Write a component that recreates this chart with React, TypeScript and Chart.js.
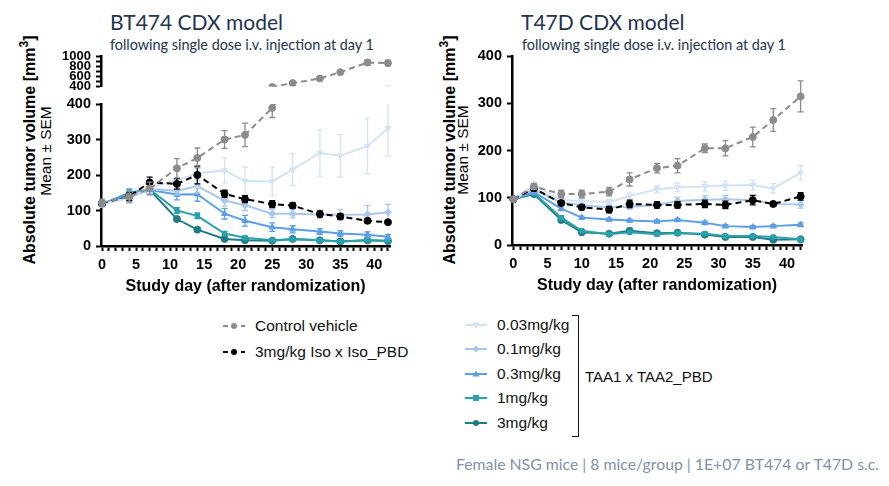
import React, { useEffect, useRef } from "react";
import { Chart, registerables } from "chart.js";

Chart.register(...registerables);
Chart.defaults.font.family = "'Liberation Sans', Arial, sans-serif";

// ---- data ----
const BT474_DAYS = [0, 4, 7, 11, 14, 18, 21, 25, 28, 32, 35, 39, 42];
const T47D_DAYS = [0, 3, 7, 10, 14, 17, 21, 24, 28, 31, 35, 38, 42];

const SERIES = ["Control vehicle", "3mg/kg Iso x Iso_PBD", "0.03mg/kg", "0.1mg/kg", "0.3mg/kg", "1mg/kg", "3mg/kg"];

// BT474 mean tumor volume (mm3) and SEM
const bt474Control = [122, 139, 162, 219, 248, 300, 313, 389, 469, 560, 686, 880, 869];
const bt474ControlSem = [10, 15, 18, 27, 28, 25, 33, 27, 15, 40, 25, 55, 55];
const bt474Iso = [120, 140, 179, 175, 200, 147, 132, 118, 114, 90, 83, 71, 67];
const bt474IsoSem = [8, 12, 15, 15, 25, 10, 10, 10, 8, 8, 8, 5, 5];
const bt474D003 = [118, 135, 165, 185, 205, 213, 183, 182, 215, 262, 254, 282, 332];
const bt474D003Sem = [8, 15, 15, 25, 40, 35, 40, 40, 45, 65, 60, 78, 78];
const bt474D01 = [118, 135, 160, 156, 168, 128, 115, 91, 91, 89, 88, 89, 95];
const bt474D01Sem = [8, 12, 12, 12, 18, 15, 15, 12, 12, 12, 15, 25, 22];
const bt474D03 = [118, 148, 158, 145, 146, 91, 71, 53, 47, 41, 35, 32, 26];
const bt474D03Sem = [8, 12, 12, 15, 20, 15, 15, 12, 10, 8, 8, 8, 6];
const bt474D1 = [118, 150, 160, 100, 85, 35, 23, 16, 19, 16, 13, 16, 15];
const bt474D1Sem = [6, 10, 10, 8, 8, 6, 5, 4, 4, 4, 3, 4, 4];
const bt474D3 = [118, 140, 158, 76, 46, 20, 16, 15, 20, 16, 13, 16, 14];
const bt474D3Sem = [6, 10, 10, 6, 4, 4, 3, 3, 3, 3, 3, 3, 3];

// T47D mean tumor volume (mm3) and SEM
const t47dControl = [97, 124, 108, 108, 113, 139, 163, 168, 205, 205, 229, 265, 315];
const t47dControlSem = [4, 6, 8, 8, 9, 14, 10, 15, 9, 16, 21, 24, 33];
const t47dIso = [97, 120, 89, 80, 75, 87, 85, 85, 87, 85, 95, 87, 103];
const t47dIsoSem = [4, 5, 5, 5, 7, 8, 7, 7, 8, 8, 10, 4, 8];
const t47dD003 = [97, 127, 96, 93, 91, 104, 118, 122, 124, 126, 127, 120, 153];
const t47dD003Sem = [4, 7, 6, 6, 6, 8, 7, 9, 10, 10, 10, 10, 15];
const t47dD01 = [97, 118, 90, 84, 80, 81, 85, 93, 96, 97, 95, 87, 86];
const t47dD01Sem = [4, 5, 5, 5, 5, 5, 5, 8, 8, 8, 7, 5, 8];
const t47dD03 = [97, 112, 77, 58, 54, 52, 50, 53, 47, 40, 38, 40, 43];
const t47dD03Sem = [3, 4, 4, 3, 3, 3, 3, 3, 4, 3, 3, 3, 4];
const t47dD1 = [97, 110, 58, 30, 23, 27, 23, 25, 24, 19, 19, 17, 12];
const t47dD1Sem = [3, 3, 4, 3, 2, 3, 2, 2, 2, 2, 2, 2, 2];
const t47dD3 = [97, 108, 53, 27, 24, 30, 25, 26, 22, 17, 17, 11, 12];
const t47dD3Sem = [3, 3, 3, 2, 2, 3, 2, 2, 2, 2, 2, 2, 2];

const LOWER_TICKS = [0, 100, 200, 300, 400];
const UPPER_TICKS = [400, 600, 800, 1000];

// ---- styles ----
const COLORS = ["#8c8c8c", "#000000", "#d3e3f6", "#a7c7ee", "#5c9ee8", "#2aa1ac", "#1d7c88"];
const DASHED = [true, true, false, false, false, false, false];
const MARKERS = ["circle", "circle", "triangle", "rectRot", "triangle", "rect", "circle"];
const ROTATION = [0, 0, 180, 0, 0, 0, 0];

const TITLE_COLOR = "#22344f";

// draws mean ± SEM whiskers under each dataset
const errorBars = {
  id: "errorBars",
  beforeDatasetDraw(chart: any, args: any) {
    const ds = chart.data.datasets[args.index];
    const sem: number[] | undefined = ds.sem;
    if (!sem) return;
    const { ctx, chartArea } = chart;
    const y = chart.scales.y;
    ctx.save();
    ctx.beginPath();
    ctx.rect(chartArea.left - 20, chartArea.top, chartArea.width + 40, chartArea.height);
    ctx.clip();
    ctx.strokeStyle = ds.borderColor;
    ctx.lineWidth = 1.3;
    ctx.setLineDash([]);
    args.meta.data.forEach((pt: any, i: number) => {
      const v = ds.data[i].y;
      const top = y.getPixelForValue(v + sem[i]);
      const bot = y.getPixelForValue(v - sem[i]);
      ctx.beginPath();
      ctx.moveTo(pt.x, top);
      ctx.lineTo(pt.x, bot);
      ctx.moveTo(pt.x - 3, top);
      ctx.lineTo(pt.x + 3, top);
      ctx.moveTo(pt.x - 3, bot);
      ctx.lineTo(pt.x + 3, bot);
      ctx.stroke();
    });
    ctx.restore();
  },
};

function buildDatasets(days: number[], values: number[][], sems: number[][], clip: any) {
  return values.map((vals, i) => ({
    label: SERIES[i],
    data: vals.map((v, j) => ({ x: days[j], y: v })),
    sem: sems[i],
    borderColor: COLORS[i],
    backgroundColor: COLORS[i],
    pointBackgroundColor: COLORS[i],
    pointBorderColor: COLORS[i],
    borderWidth: 2,
    borderDash: DASHED[i] ? [6, 4] : [],
    pointStyle: MARKERS[i],
    pointRotation: ROTATION[i],
    pointRadius: MARKERS[i] === "rect" ? 3 : 3.5,
    pointBorderWidth: 1,
    tension: 0,
    clip,
  }));
}

function chartOptions(o: {
  yMin: number;
  yMax: number;
  yLabels: number[];
  yFont: number;
  xMax: number;
  xMin: number;
  showX: boolean;
  pad: any;
  yWidth: number;
}): any {
  return {
    responsive: false,
    animation: false,
    events: [],
    layout: { padding: o.pad },
    plugins: { legend: { display: false }, tooltip: { enabled: false } },
    scales: {
      x: {
        type: "linear",
        display: o.showX,
        min: o.xMin,
        max: o.xMax,
        border: { color: "#000", width: 2.5 },
        grid: { drawOnChartArea: false, tickLength: 5, tickColor: "#000", tickWidth: 2 },
        ticks: {
          stepSize: 1,
          autoSkip: false,
          maxRotation: 0,
          includeBounds: false,
          padding: 5,
          color: "#000",
          font: { size: 14.5, weight: "bold" },
          callback: (v: number) => (v % 5 === 0 ? String(v) : ""),
        },
        title: {
          display: true,
          text: "Study day (after randomization)",
          color: "#000",
          font: { size: 16, weight: "bold" },
          padding: 0,
        },
        afterFit: (s: any) => {
          if (o.showX) s.height = 50;
        },
      },
      y: {
        type: "linear",
        min: o.yMin,
        max: o.yMax,
        border: { color: "#000", width: 2.5 },
        grid: { drawOnChartArea: false, tickLength: 5, tickColor: "#000", tickWidth: 2 },
        ticks: {
          stepSize: 100,
          autoSkip: false,
          includeBounds: false,
          padding: 5,
          color: "#000",
          font: { size: o.yFont, weight: "bold", lineHeight: 1 },
          callback: (v: number) => (o.yLabels.includes(v) ? String(v) : ""),
        },
        afterFit: (s: any) => {
          s.width = o.yWidth;
        },
      },
    },
  };
}

function Marker({ kind, color, rot }: { kind: string; color: string; rot: number }) {
  const cx = 11;
  const cy = 6;
  if (kind === "circle") return <circle cx={cx} cy={cy} r={3} fill={color} />;
  if (kind === "rect") return <rect x={cx - 3} y={cy - 3} width={6} height={6} fill={color} />;
  if (kind === "rectRot")
    return <polygon points={`${cx},${cy - 3.5} ${cx + 3.5},${cy} ${cx},${cy + 3.5} ${cx - 3.5},${cy}`} fill={color} />;
  const d = rot === 180 ? -1 : 1;
  return <polygon points={`${cx},${cy - 3.5 * d} ${cx + 3.5},${cy + 2.5 * d} ${cx - 3.5},${cy + 2.5 * d}`} fill={color} />;
}

function LegendRow({ i, left, top }: { i: number; left: number; top: number }) {
  return (
    <div style={{ position: "absolute", left, top: top - 10, height: 20, display: "flex", alignItems: "center" }}>
      <svg width={22} height={12} style={{ marginRight: 10 }}>
        <line
          x1={0}
          y1={6}
          x2={22}
          y2={6}
          stroke={COLORS[i]}
          strokeWidth={2}
          strokeDasharray={DASHED[i] ? "5 4" : undefined}
        />
        <Marker kind={MARKERS[i]} color={COLORS[i]} rot={ROTATION[i]} />
      </svg>
      <span style={{ fontSize: 15.5, color: "#111", whiteSpace: "nowrap" }}>{SERIES[i]}</span>
    </div>
  );
}

function YTitle({ x, y }: { x: number; y: number }) {
  return (
    <div
      style={{
        position: "absolute",
        left: x,
        top: y,
        transform: "translate(-50%, -50%) rotate(-90deg)",
        whiteSpace: "nowrap",
        fontSize: 16,
        fontWeight: "bold",
        color: "#000",
      }}
    >
      Absolute tumor volume [mm<span style={{ fontSize: 12, verticalAlign: "7px" }}>3</span>]
    </div>
  );
}

function YSub({ x, y }: { x: number; y: number }) {
  return (
    <div
      style={{
        position: "absolute",
        left: x,
        top: y,
        transform: "translate(-50%, -50%) rotate(-90deg)",
        whiteSpace: "nowrap",
        fontSize: 15.5,
        color: "#000",
      }}
    >
      Mean ± SEM
    </div>
  );
}

export default function App() {
  const upperRef = useRef<HTMLCanvasElement | null>(null);
  const lowerRef = useRef<HTMLCanvasElement | null>(null);
  const rightRef = useRef<HTMLCanvasElement | null>(null);

  useEffect(() => {
    const charts: Chart[] = [];
    const btValues = [bt474Control, bt474Iso, bt474D003, bt474D01, bt474D03, bt474D1, bt474D3];
    const btSems = [bt474ControlSem, bt474IsoSem, bt474D003Sem, bt474D01Sem, bt474D03Sem, bt474D1Sem, bt474D3Sem];
    const tValues = [t47dControl, t47dIso, t47dD003, t47dD01, t47dD03, t47dD1, t47dD3];
    const tSems = [t47dControlSem, t47dIsoSem, t47dD003Sem, t47dD01Sem, t47dD03Sem, t47dD1Sem, t47dD3Sem];

    if (upperRef.current) {
      charts.push(
        new Chart(upperRef.current, {
          type: "line",
          data: { datasets: buildDatasets(BT474_DAYS, btValues, btSems, { left: 10, right: 10, top: 10, bottom: 0 }) as any },
          options: chartOptions({
            yMin: 400,
            yMax: 1000,
            yLabels: UPPER_TICKS,
            yFont: 13,
            xMin: -0.15,
            xMax: 42.3,
            showX: false,
            pad: { top: 10, right: 10, bottom: 8, left: 0 },
            yWidth: 61,
          }),
          plugins: [errorBars],
        })
      );
    }
    if (lowerRef.current) {
      charts.push(
        new Chart(lowerRef.current, {
          type: "line",
          data: { datasets: buildDatasets(BT474_DAYS, btValues, btSems, { left: 10, right: 10, top: 0, bottom: 10 }) as any },
          options: chartOptions({
            yMin: 0,
            yMax: 400,
            yLabels: LOWER_TICKS,
            yFont: 14.5,
            xMin: -0.15,
            xMax: 42.3,
            showX: true,
            pad: { top: 14, right: 10, bottom: 0, left: 0 },
            yWidth: 61,
          }),
          plugins: [errorBars],
        })
      );
    }
    if (rightRef.current) {
      charts.push(
        new Chart(rightRef.current, {
          type: "line",
          data: { datasets: buildDatasets(T47D_DAYS, tValues, tSems, { left: 10, right: 10, top: 10, bottom: 10 }) as any },
          options: chartOptions({
            yMin: 0,
            yMax: 400,
            yLabels: LOWER_TICKS,
            yFont: 14.5,
            xMin: -0.2,
            xMax: 42.2,
            showX: true,
            pad: { top: 10, right: 8, bottom: 0, left: 0 },
            yWidth: 62,
          }),
          plugins: [errorBars],
        })
      );
    }
    return () => charts.forEach((c) => c.destroy());
  }, []);

  const titleStyle: React.CSSProperties = {
    position: "absolute",
    fontFamily: "Lato, 'Noto Sans', sans-serif",
    fontSize: 21,
    lineHeight: "22px",
    color: TITLE_COLOR,
    whiteSpace: "nowrap",
  };
  const subStyle: React.CSSProperties = {
    position: "absolute",
    fontFamily: "Lato, 'Noto Sans', sans-serif",
    fontSize: 14.4,
    lineHeight: "14px",
    color: TITLE_COLOR,
    whiteSpace: "nowrap",
  };

  return (
    <div
      style={{
        position: "absolute",
        left: 0,
        top: 0,
        width: 889,
        height: 486,
        background: "#fff",
        overflow: "hidden",
        fontFamily: "'Liberation Sans', Arial, sans-serif",
      }}
    >
      <div style={{ ...titleStyle, left: 110, top: 11 }}>BT474 CDX model</div>
      <div style={{ ...subStyle, left: 110, top: 38 }}>following single dose i.v. injection at day 1</div>
      <div style={{ ...titleStyle, left: 521, top: 11 }}>T47D CDX model</div>
      <div style={{ ...subStyle, left: 522, top: 38 }}>following single dose i.v. injection at day 1</div>

      <YTitle x={28} y={150} />
      <YSub x={46} y={151} />
      <YTitle x={448} y={150} />
      <YSub x={463} y={150} />

      <canvas ref={upperRef} width={360} height={53} style={{ position: "absolute", left: 40, top: 45 }} />
      <canvas ref={lowerRef} width={360} height={206} style={{ position: "absolute", left: 40, top: 90 }} />
      <canvas ref={rightRef} width={360} height={251} style={{ position: "absolute", left: 450, top: 44 }} />

      <LegendRow i={0} left={223} top={326} />
      <LegendRow i={1} left={223} top={351.7} />
      {[2, 3, 4, 5, 6].map((i, k) => (
        <LegendRow key={i} i={i} left={465} top={325 + k * 24.4} />
      ))}

      <div
        style={{
          position: "absolute",
          left: 572,
          top: 315,
          width: 6,
          height: 120,
          borderTop: "1.5px solid #111",
          borderRight: "1.5px solid #111",
          borderBottom: "1.5px solid #111",
        }}
      />
      <div
        style={{
          position: "absolute",
          left: 585,
          top: 367,
          fontSize: 15,
          lineHeight: "20px",
          color: "#111",
          whiteSpace: "nowrap",
        }}
      >
        TAA1 x TAA2_PBD
      </div>

      <div
        style={{
          position: "absolute",
          left: 456,
          top: 455,
          fontFamily: "Lato, 'Noto Sans', sans-serif",
          fontSize: 15.8,
          lineHeight: "18px",
          color: "#8192a8",
          whiteSpace: "nowrap",
        }}
      >
        Female NSG mice | 8 mice/group | 1E+07 BT474 or T47D s.c.
      </div>
    </div>
  );
}
